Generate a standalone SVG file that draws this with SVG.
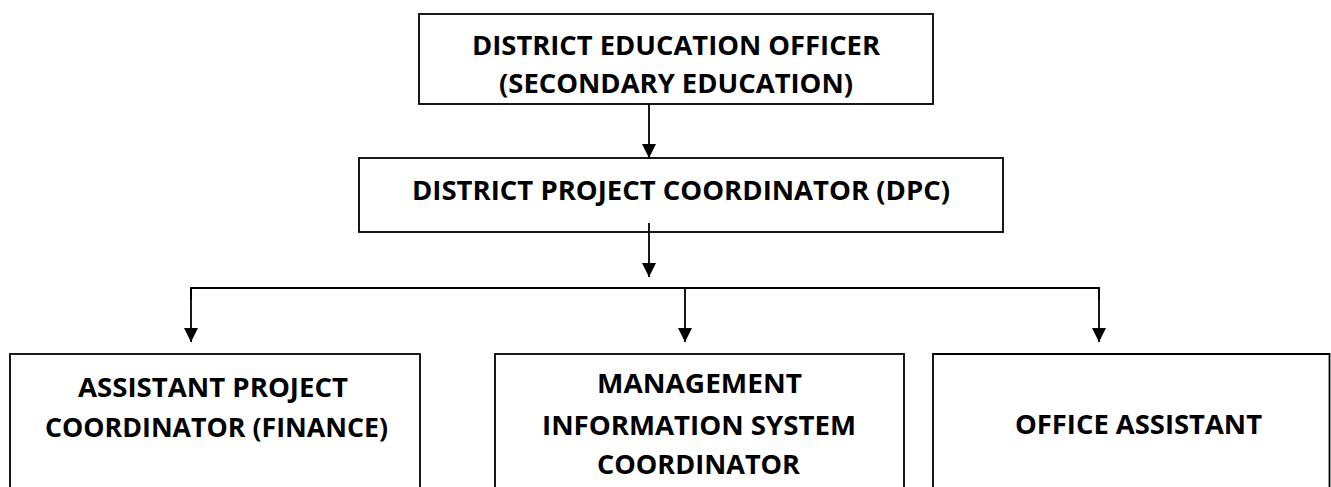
<svg xmlns="http://www.w3.org/2000/svg" width="1331" height="487" viewBox="0 0 1331 487">
<style>
.box{fill:#fff;stroke:#000;stroke-width:1.8}
.t{font-family:"Open Sans","Liberation Sans",sans-serif;font-weight:700;font-size:27.5px;fill:#000}
.c{fill:none;stroke:#000;stroke-width:1.8}
</style>
<defs>
<marker id="ah" markerUnits="userSpaceOnUse" markerWidth="15" markerHeight="14" refX="14" refY="7" orient="auto" viewBox="0 0 15 14">
<path d="M0,0 L14,7 L0,14 Z" fill="#000"/>
</marker>
</defs>
<rect width="1331" height="487" fill="#fff"/>
<g id="deo">
<rect class="box" x="419" y="14" width="514" height="90"/>
<text class="t" x="472" y="55" textLength="408" lengthAdjust="spacingAndGlyphs">DISTRICT EDUCATION OFFICER</text>
<text class="t" x="499" y="93" textLength="354" lengthAdjust="spacingAndGlyphs">(SECONDARY EDUCATION)</text>
</g>
<g id="dpc">
<rect class="box" x="359" y="158" width="644" height="74"/>
<text class="t" x="412" y="200" textLength="538" lengthAdjust="spacingAndGlyphs">DISTRICT PROJECT COORDINATOR (DPC)</text>
</g>
<g id="apc">
<rect class="box" x="10" y="354" width="410" height="150"/>
<text class="t" x="78" y="397" textLength="270" lengthAdjust="spacingAndGlyphs">ASSISTANT PROJECT</text>
<text class="t" x="45" y="437" textLength="343" lengthAdjust="spacingAndGlyphs">COORDINATOR (FINANCE)</text>
</g>
<g id="mis">
<rect class="box" x="495" y="354" width="409" height="150"/>
<text class="t" x="597" y="393" textLength="205" lengthAdjust="spacingAndGlyphs">MANAGEMENT</text>
<text class="t" x="542" y="435" textLength="314" lengthAdjust="spacingAndGlyphs">INFORMATION SYSTEM</text>
<text class="t" x="597" y="474" textLength="203" lengthAdjust="spacingAndGlyphs">COORDINATOR</text>
</g>
<g id="oa">
<path class="box" d="M933,500 V354 H1329.5 V500"/>
<text class="t" x="1015" y="434" textLength="247" lengthAdjust="spacingAndGlyphs">OFFICE ASSISTANT</text>
</g>
<g id="connectors">
<line class="c" x1="649" y1="104" x2="649" y2="158" marker-end="url(#ah)"/>
<line class="c" x1="649" y1="223" x2="649" y2="277" marker-end="url(#ah)"/>
<path class="c" d="M191,300 V288 H1099 V300"/>
<line class="c" x1="191" y1="288" x2="191" y2="342" marker-end="url(#ah)"/>
<line class="c" x1="685" y1="288" x2="685" y2="342" marker-end="url(#ah)"/>
<line class="c" x1="1099" y1="288" x2="1099" y2="342" marker-end="url(#ah)"/>
</g>
</svg>
